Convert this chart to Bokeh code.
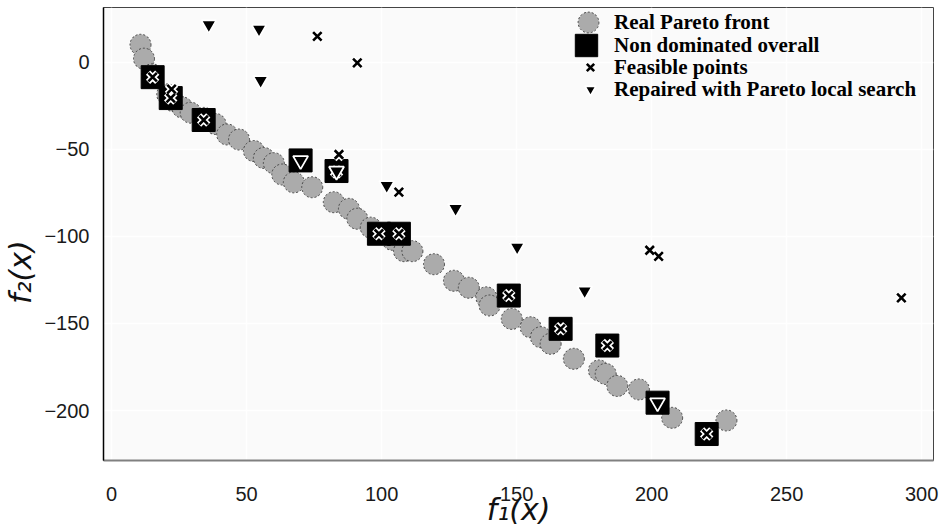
from bokeh.plotting import figure
from bokeh.models import Legend, LegendItem, FixedTicker, Range1d
from bokeh.embed import file_html
from bokeh.resources import INLINE

# ---- data ----
pareto_f1 = [10.7, 12.0, 15.0, 20.6, 23.0, 26.2, 29.3, 34.2, 38.5, 42.8, 47.2, 52.7,
             56.4, 60.1, 63.2, 67.5, 74.3, 82.3, 87.9, 91.0, 96.0, 104.0, 108.3, 111.4,
             119.4, 126.8, 132.3, 138.8, 140.0, 148.2, 155.2, 159.0, 162.6, 171.2,
             180.5, 183.0, 187.3, 195.3, 207.6, 227.7]
pareto_f2 = [10.0, 2.0, -7.0, -18.5, -22.4, -26.0, -29.0, -32.0, -35.5, -41.5, -44.4, -51.0,
             -55.0, -58.0, -64.5, -69.0, -71.8, -80.4, -84.2, -89.9, -95.0, -102.0, -108.5, -108.5,
             -116.0, -125.5, -129.5, -135.0, -139.7, -147.4, -152.2, -157.9, -161.7, -170.3,
             -177.0, -179.0, -185.9, -187.9, -204.2, -205.7]

nd_f1 = [15.2, 21.9, 34.1, 70.0, 83.3, 99.0, 106.4, 147.1, 166.3, 183.6, 202.2, 220.4]
nd_f2 = [-8.6, -20.6, -33.2, -56.4, -62.5, -98.5, -98.5, -134.0, -153.1, -162.7, -195.5, -213.5]

feas_f1 = [76.2, 91.0, 84.2, 22.2, 106.4, 199.3, 202.6, 292.5,
           15.2, 21.9, 34.1, 83.3, 99.0, 106.4, 147.1, 166.3, 183.6, 220.4]
feas_f2 = [14.8, -0.4, -53.0, -15.5, -74.6, -108.0, -111.5, -135.3,
           -8.6, -20.6, -33.2, -63.0, -98.5, -98.5, -134.0, -153.1, -162.7, -213.5]

rep_f1 = [36.0, 54.6, 55.2, 101.9, 127.4, 150.2, 175.2, 70.0, 83.3, 202.2]
rep_f2 = [21.5, 19.0, -10.5, -70.8, -84.0, -106.2, -131.3, -56.4, -62.5, -195.5]

x_ticks = [0, 50, 100, 150, 200, 250, 300]
y_ticks = [-200, -150, -100, -50, 0]
y_tick_labels = ["\u2212200", "\u2212150", "\u2212100", "\u221250", "0"]
legend_labels = ["Real Pareto front", "Non dominated overall",
                 "Feasible points", "Repaired with Pareto local search"]
x_title = "f\u2081(x)"
y_title = "f\u2082(x)"

p = figure(width=944, height=530, output_backend="svg", toolbar_location=None,
           x_range=Range1d(-3, 304.4), y_range=Range1d(-228.7, 31.4),
           min_border_left=103, min_border_right=11, min_border_top=7,
           min_border_bottom=70)

p.background_fill_color = "#fafafa"
p.border_fill_color = "white"
p.outline_line_color = "#444444"
p.outline_line_width = 1
p.grid.grid_line_color = "white"
p.grid.grid_line_width = 1.5

p.xaxis.ticker = FixedTicker(ticks=x_ticks)
p.yaxis.ticker = FixedTicker(ticks=y_ticks)
p.yaxis.major_label_overrides = {t: l for t, l in zip(y_ticks, y_tick_labels)}
p.xaxis.major_label_overrides = {t: str(t) for t in x_ticks}
for ax in (p.xaxis, p.yaxis):
    ax.major_tick_line_color = None
    ax.minor_tick_line_color = None
    ax.major_label_text_font = "Liberation Sans"
    ax.major_label_text_font_size = "20px"
    ax.major_label_text_color = "#1a1a1a"
    ax.axis_label_text_font = "DejaVu Sans"
    ax.axis_label_text_font_style = "italic"
    ax.axis_label_text_font_size = "30px"
    ax.axis_label_text_color = "#111111"
p.xaxis.axis_line_color = "#808080"
p.xaxis.axis_line_width = 2
p.yaxis.axis_line_color = "black"
p.yaxis.axis_line_width = 1.5
p.xaxis.major_label_standoff = 20
p.yaxis.major_label_standoff = 8
p.xaxis.axis_label = x_title
# trailing no-break spaces push the rotated title slightly below the frame centre
p.yaxis.axis_label = y_title + "\u00a0" * 8
p.xaxis.axis_label_standoff = -12
p.yaxis.axis_label_standoff = 3

r_pareto = p.scatter(pareto_f1, pareto_f2, marker="circle", size=21,
                     fill_color="#ababab", line_color="#444444", line_width=1,
                     line_dash="2 2")
r_nd = p.scatter(nd_f1, nd_f2, marker="square", size=23,
                 fill_color="black", line_color="black")
# white halo then black cross for feasible points
p.scatter(feas_f1, feas_f2, marker="x", size=13, line_color="white", line_width=6)
r_feas = p.scatter(feas_f1, feas_f2, marker="x", size=12, line_color="black", line_width=2.6)
r_rep = p.scatter(rep_f1, rep_f2, marker="inverted_triangle", size=15,
                  fill_color="black", line_color="white", line_width=1.8)

renderers = [r_pareto, r_nd, r_feas, r_rep]
glyph_w = [52, 56, 26, 28]
centers = [22, 45, 67, 89]
frame_left, frame_bottom = 103, 460
text_x, small_cx = 614, 590
for rend, lab, gw, cy in zip(renderers, legend_labels, glyph_w, centers):
    if gw > 40:
        vx = text_x - gw - frame_left
        standoff = 0
    else:
        vx = small_cx - gw / 2 - frame_left
        standoff = int(text_x - small_cx - gw / 2)
    leg = Legend(items=[LegendItem(label=lab, renderers=[rend])],
                 location=(vx, frame_bottom - cy - gw / 2),
                 glyph_width=gw, glyph_height=gw, label_height=gw,
                 label_standoff=standoff,
                 padding=0, margin=0, spacing=0,
                 border_line_color=None, background_fill_alpha=0,
                 label_text_font="Liberation Serif", label_text_font_style="bold",
                 label_text_font_size="21px", label_text_color="black")
    p.add_layout(leg)

open("out.html", "w").write(file_html(p, INLINE))
